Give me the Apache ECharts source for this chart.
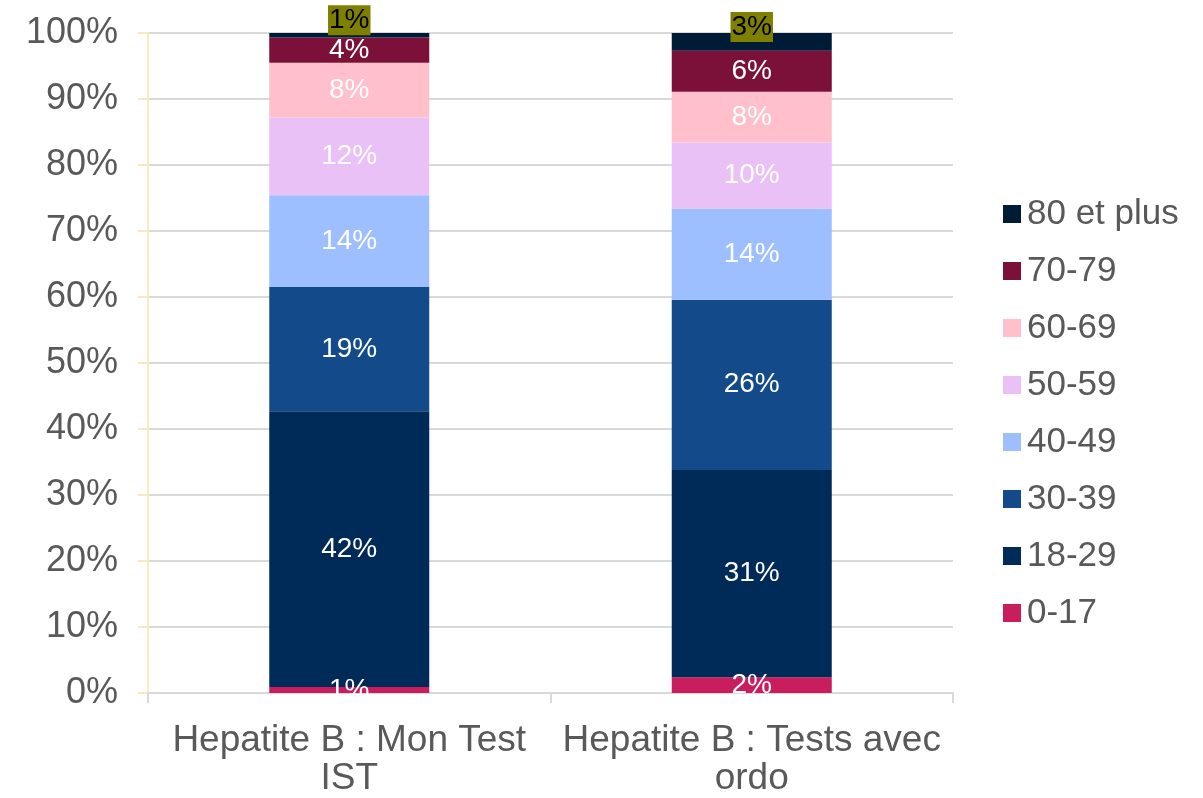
<!DOCTYPE html>
<html>
<head>
<meta charset="utf-8">
<script src="https://cdn.jsdelivr.net/npm/echarts@6/dist/echarts.min.js"></script>
<style>
  html, body { margin: 0; padding: 0; background: #fff; }
  #chart { width: 1203px; height: 798px; }
</style>
</head>
<body>
<div id="chart"></div>
<script>
// catégories (axe x) et tranches d'âge
var categories = ['Hepatite B : Mon Test\nIST', 'Hepatite B : Tests avec\nordo'];
var ageGroups = ['0-17', '18-29', '30-39', '40-49', '50-59', '60-69', '70-79', '80 et plus'];
// parts en % par tranche d'âge
var monTestIst = [0.9, 41.8, 18.8, 13.9, 11.8, 8.3, 3.8, 0.7];
var testsAvecOrdo = [2.4, 31.4, 25.8, 13.8, 10.0, 7.7, 6.2, 2.7];
var colors = ['#c91d5e', '#002a57', '#134b8a', '#9dbeff', '#e9c1f7', '#ffbfcb', '#7b1138', '#001b36'];

var font = 'Liberation Sans, Arial, sans-serif';
var dom = document.getElementById('chart');
var myChart = echarts.init(dom);

var series = ageGroups.map(function (name, i) {
    var last = i === ageGroups.length - 1;
    return {
        name: name,
        type: 'bar',
        stack: 'total',
        barWidth: 160,
        data: [monTestIst[i], testsAvecOrdo[i]],
        itemStyle: { color: colors[i] },
        label: {
            show: true,
            position: 'inside',
            offset: last ? [0, -15] : [0, 0],
            formatter: function (p) { return Math.round(p.value) + '%'; },
            color: last ? '#000' : '#fff',
            fontFamily: font,
            fontSize: 28,
            backgroundColor: last ? '#808000' : 'transparent',
            padding: last ? [2, 1, 0, 1] : 0
        }
    };
});

var option = {
    animation: false,
    color: colors,
    textStyle: { fontFamily: font },
    grid: { left: 148, right: 250, top: 33, bottom: 104 },
    legend: {
        orient: 'vertical',
        left: 998,
        top: 191,
        data: ageGroups.slice().reverse(),
        icon: 'rect',
        itemWidth: 18,
        itemHeight: 18,
        itemGap: 21,
        textStyle: { color: '#595959', fontSize: 35, lineHeight: 36, padding: [0, 0, 0, 1], fontFamily: font }
    },
    xAxis: {
        type: 'category',
        data: categories,
        axisLine: { lineStyle: { color: '#d9d9d9', width: 2 } },
        axisTick: { show: true, length: 10, lineStyle: { color: '#d9d9d9', width: 2 } },
        axisLabel: { interval: 0, color: '#595959', fontSize: 37, lineHeight: 38, margin: 29, fontFamily: font }
    },
    yAxis: {
        type: 'value',
        min: 0,
        max: 100,
        interval: 10,
        axisLine: { show: true, lineStyle: { color: '#f8eac0', width: 2 } },
        axisTick: { show: true, length: 10, lineStyle: { color: '#f8eac0', width: 2 } },
        splitLine: { lineStyle: { color: '#d9d9d9', width: 2 } },
        axisLabel: {
            color: '#595959', fontSize: 36, margin: 30, fontFamily: font,
            formatter: '{value}%'
        }
    },
    series: series
};

if (option && typeof option === 'object') {
    myChart.setOption(option, true);
}
</script>
</body>
</html>
